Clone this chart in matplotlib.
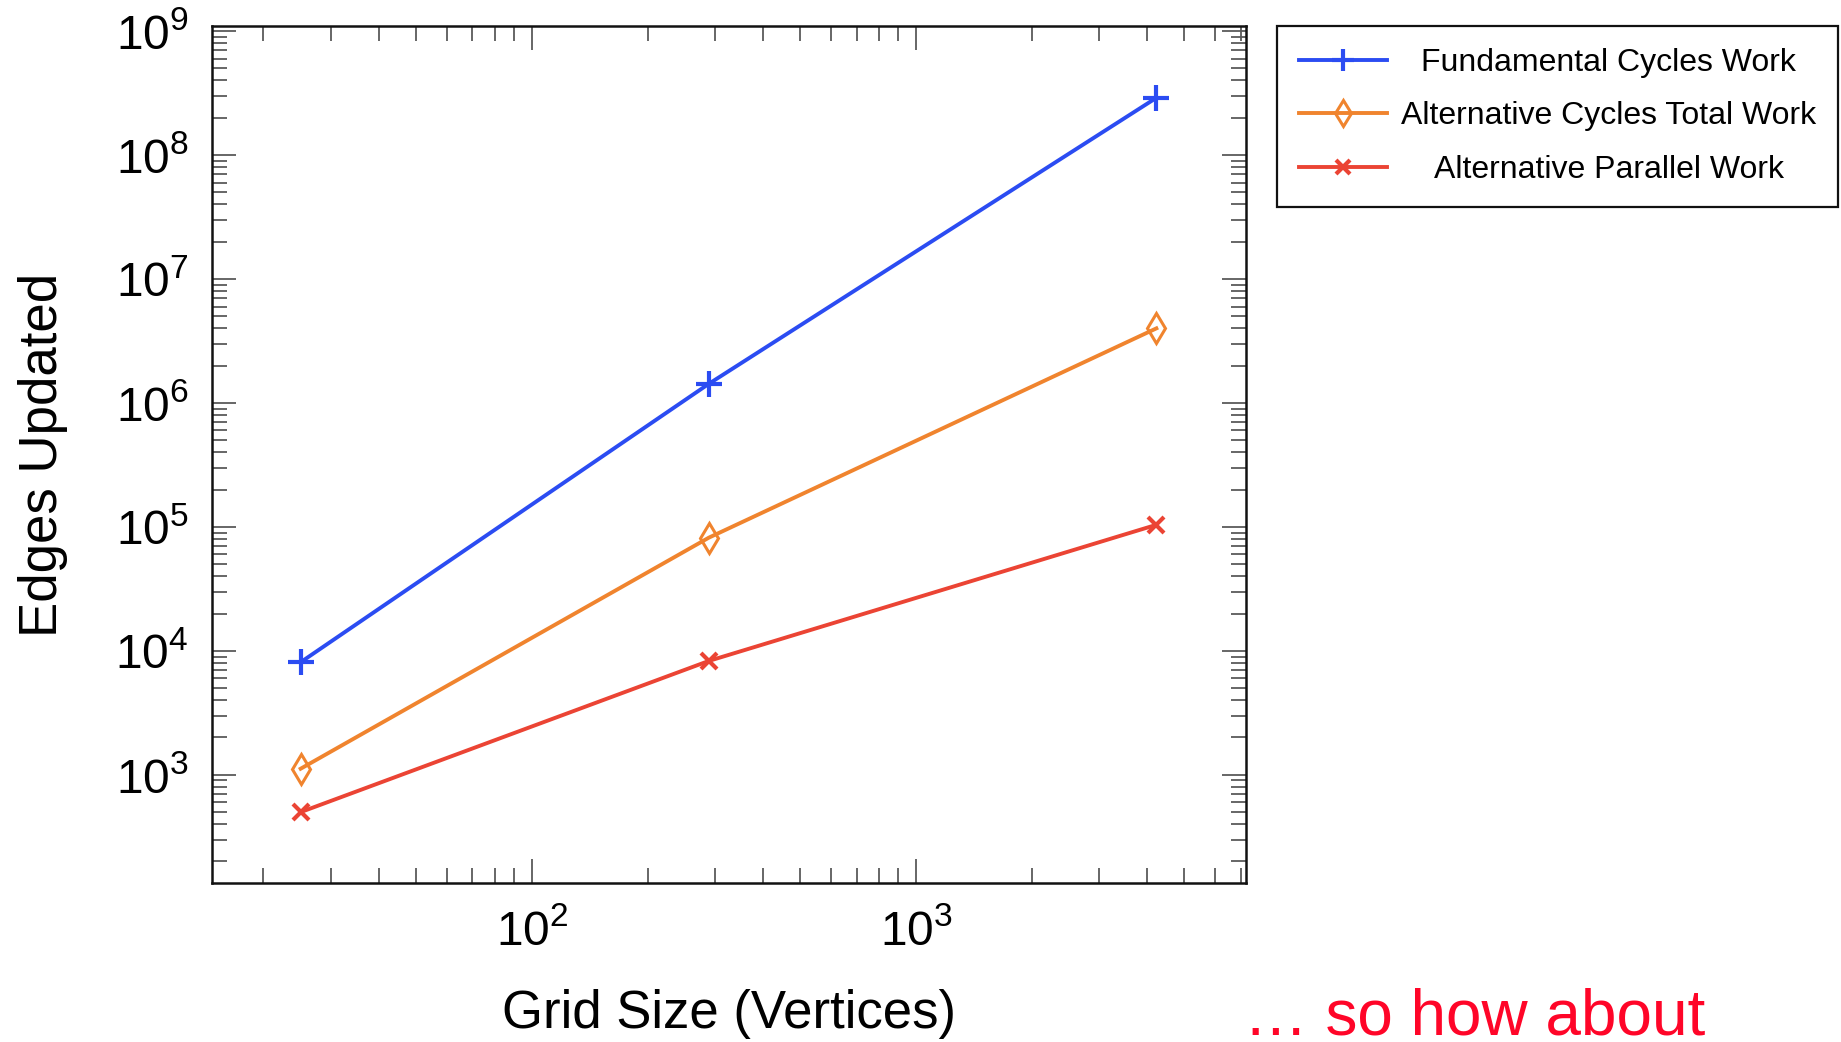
import matplotlib
matplotlib.use("Agg")
import matplotlib.pyplot as plt
from matplotlib.ticker import LogLocator, LogFormatterMathtext, NullFormatter

plt.rcParams['font.family'] = ['Liberation Sans', 'DejaVu Sans']
plt.rcParams['mathtext.fontset'] = 'custom'
plt.rcParams['mathtext.rm'] = 'Liberation Sans'

grid_sizes = [25, 289, 4225]
fundamental_work = [8100, 1.43e6, 2.9e8]
alt_total_work = [1120, 82000, 4.0e6]
alt_parallel_work = [500, 8300, 104000]
series_labels = ["Fundamental Cycles Work", "Alternative Cycles Total Work",
                 "Alternative Parallel Work"]
colors = ["#2B4CF2", "#F0842E", "#EB4434"]

fig = plt.figure(figsize=(18.41, 10.42), dpi=100)
ax = fig.add_axes([0.1152, 0.1526, 0.5616, 0.8224])

ax.plot(grid_sizes, fundamental_work, color=colors[0], lw=2.8, marker='+',
        ms=19, mew=3.0, label=series_labels[0])
ax.plot(grid_sizes, alt_total_work, color=colors[1], lw=2.8, marker='d',
        ms=15, mew=2.2, mfc='none', label=series_labels[1])
ax.plot(grid_sizes, alt_parallel_work, color=colors[2], lw=2.8, marker='x',
        ms=12, mew=3.0, label=series_labels[2])

ax.set_xscale('log')
ax.set_yscale('log')
ax.set_xlim(14.7, 7230)
ax.set_ylim(134, 1.1e9)

for axis in (ax.xaxis, ax.yaxis):
    axis.set_major_locator(LogLocator(base=10, numticks=20))
    axis.set_minor_locator(LogLocator(base=10, subs=range(2, 10), numticks=20))
    axis.set_major_formatter(LogFormatterMathtext())
    axis.set_minor_formatter(NullFormatter())

ax.tick_params(which='both', direction='in', top=True, right=True,
               color='#5a5a5a', width=1.3)
ax.tick_params(which='major', length=17, labelsize=34.5)
ax.tick_params(which='minor', length=11)
ax.tick_params(axis='x', which='major', pad=19)
ax.tick_params(axis='y', which='major', pad=17)

for sp in ax.spines.values():
    sp.set_linewidth(1.8)
    sp.set_color('#111111')

ax.set_xlabel("Grid Size (Vertices)", fontsize=38, labelpad=24)
ax.set_ylabel("Edges Updated", fontsize=38, labelpad=34)

leg = fig.legend(loc='upper left', bbox_to_anchor=(0.6937, 0.975),
                 fontsize=23, frameon=True, fancybox=False, framealpha=1,
                 edgecolor='#111111', handlelength=2.75, handletextpad=0.45,
                 borderpad=0.68, labelspacing=0.74, borderaxespad=0,
                 markerscale=0.85)
leg.get_frame().set_linewidth(1.6)

fig.text(1244 / 1841, 0.007, "\u2026 so how about", color='#FF0528',
         fontsize=46, ha='left', va='baseline')

# center legend labels within the text column
fig.canvas.draw()
renderer = fig.canvas.get_renderer()
texts = leg.get_texts()
widths = [t.get_window_extent(renderer).width for t in texts]
wmax = max(widths)
for t, w in zip(texts, widths):
    t.set_x((wmax - w) / 2.0)

fig.savefig("out.png", dpi=100)
